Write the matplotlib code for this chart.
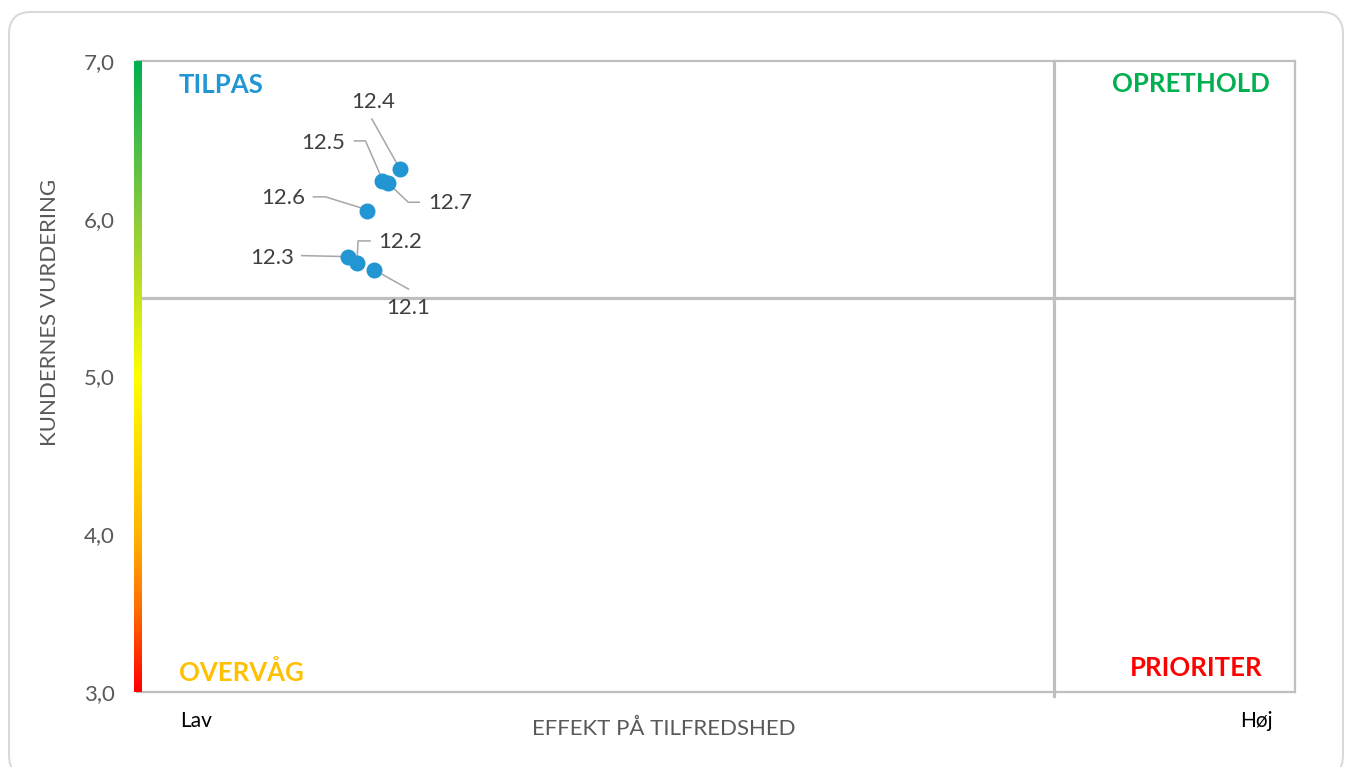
import numpy as np
import matplotlib.pyplot as plt
from matplotlib.colors import LinearSegmentedColormap
from matplotlib.patches import FancyBboxPatch
from matplotlib.transforms import IdentityTransform

# data
labels = ['12.1', '12.2', '12.3', '12.4', '12.5', '12.6', '12.7']
effect = [0.205, 0.190, 0.182, 0.227, 0.212, 0.199, 0.217]
rating = [5.675, 5.72, 5.76, 6.315, 6.24, 6.05, 6.225]
y_ticks = [3, 4, 5, 6, 7]
y_ticklabels = ['3,0', '4,0', '5,0', '6,0', '7,0']
x_split = 0.792
y_split = 5.5

# leader lines (pixel offsets from point, x right / y down) and label anchor
leaders = {
    '12.1': ([(0, 0), (34, 19)], (34, 38), 'center'),
    '12.2': ([(0, -2), (1, -22), (13, -22)], (21, -21), 'left'),
    '12.3': ([(0, 0), (-46, -1)], (-54, 1), 'right'),
    '12.4': ([(-1, -2), (-28, -50)], (-27, -67), 'center'),
    '12.5': ([(0, -1), (-17, -40), (-28, -40)], (-37, -38), 'right'),
    '12.6': ([(0, -1), (-42, -14), (-54, -14)], (-62, -13), 'right'),
    '12.7': ([(0, 0), (20, 19), (31, 19)], (40, 20), 'left'),
}

W, H = 1346, 767
plt.rcParams['font.family'] = ['Lato', 'DejaVu Sans']
fig = plt.figure(figsize=(W / 100, H / 100), dpi=100)

def fx(px):
    return px / W

def fy(py):
    return 1 - py / H

# rounded frame around the chart
frame = FancyBboxPatch((9, -10), 1334, 765, boxstyle='round,pad=0,rounding_size=22',
                       transform=IdentityTransform(), facecolor='white',
                       edgecolor='#D9D9D9', linewidth=1.5, zorder=-5)
fig.add_artist(frame)

ax = fig.add_axes([fx(137), fy(692), fx(1295) - fx(137), fy(61) - fy(692)])
ax.set_facecolor('none')
ax.set_xlim(0, 1)
ax.set_ylim(3, 7)
for side in ['top', 'right', 'bottom']:
    ax.spines[side].set_color('#BFBFBF')
    ax.spines[side].set_linewidth(1.6)
ax.spines['left'].set_visible(False)
ax.set_xticks([])
ax.set_yticks(y_ticks)
ax.set_yticklabels(y_ticklabels)
ax.tick_params(axis='y', length=0, pad=16, labelsize=16, labelcolor='#595959')

ax.axhline(y_split, color='#BFBFBF', lw=2.3, zorder=1)
ax.axvline(x_split, ymin=-0.006, ymax=1, color='#BFBFBF', lw=2.3, zorder=1, clip_on=False)

# gradient bar on the y axis
cmap = LinearSegmentedColormap.from_list('rating', [
    (0.0, '#FF0000'), (0.125, '#FF6A00'), (0.25, '#FFB400'), (0.5, '#FFFF00'),
    (0.625, '#C6E41C'), (0.75, '#8CCB3C'), (1.0, '#00B050')])
bar = fig.add_axes([fx(134), fy(692), fx(142) - fx(134), fy(61) - fy(692)])
bar.imshow(np.linspace(0, 1, 400).reshape(-1, 1), cmap=cmap, aspect='auto', origin='lower')
bar.set_axis_off()

ax.plot(effect, rating, 'o', color='#2196D3', markersize=10.5, zorder=4)

# labels with leader lines, drawn in pixel space
fig.canvas.draw()
for lab, x, y in zip(labels, effect, rating):
    pts, (tx, ty), ha = leaders[lab]
    px, py = ax.transData.transform((x, y))
    xs = [px + dx for dx, dy in pts]
    ys = [py - dy for dx, dy in pts]
    ax.plot(xs, ys, color='#A6A6A6', lw=1.1, transform=IdentityTransform(), zorder=3)
    ax.text(px + tx, py - ty, lab, transform=IdentityTransform(), ha=ha, va='center',
            fontsize=16, color='#404040', zorder=5)

# quadrant names
fig.text(fx(179), fy(85), 'TILPAS', color='#2196D3', fontsize=18.5, fontweight='bold', va='center')
fig.text(fx(1270), fy(84), 'OPRETHOLD', color='#00B050', fontsize=18.5, fontweight='bold',
         va='center', ha='right')
fig.text(fx(179), fy(673), 'OVERVÅG', color='#FFC000', fontsize=18.5, fontweight='bold', va='center')
fig.text(fx(1262), fy(668), 'PRIORITER', color='#FF0000', fontsize=18.5, fontweight='bold',
         va='center', ha='right')

# axis captions
fig.text(fx(180), fy(721), 'Lav', fontsize=15, color='black', va='center')
fig.text(fx(1273), fy(721), 'Høj', fontsize=15, color='black', va='center', ha='right')
fig.text(fx(664), fy(729), 'EFFEKT PÅ TILFREDSHED', fontsize=16, color='#595959',
         va='center', ha='center')
fig.text(fx(50), fy(312), 'KUNDERNES VURDERING', fontsize=16, color='#595959',
         va='center', ha='center', rotation=90)

fig.savefig('out.png', dpi=100)
